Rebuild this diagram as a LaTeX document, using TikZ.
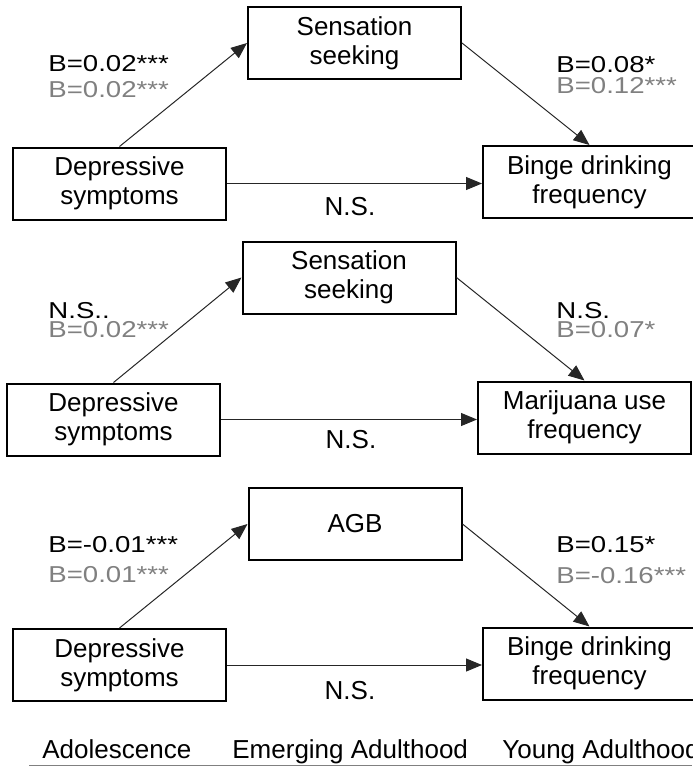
\documentclass[tikz,border=0pt]{standalone}
\usepackage{fontspec}
\setmainfont{Liberation Sans}
\newfontfamily\coeffont[FakeStretch=1.2]{Liberation Sans}
\usetikzlibrary{arrows.meta}
\definecolor{coefgray}{RGB}{128,128,128}
\begin{document}
\begin{tikzpicture}[x=0.5pt,y=-0.5pt,
    box/.style={draw,line width=1pt,minimum width=106.5pt,minimum height=36pt,inner sep=0pt,align=center,font=\fontsize{13}{14.5}\selectfont},
    link/.style={-{Triangle[length=8pt,width=6.5pt]},line width=0.5pt,draw=black!85},
    coef/.style={anchor=base west,inner sep=0pt,font=\coeffont\fontsize{11.5}{12}\selectfont},
    ns/.style={anchor=base,inner sep=0pt,font=\fontsize{13}{14}\selectfont},
    stage/.style={anchor=base west,inner sep=0pt,font=\fontsize{13}{14}\selectfont}]
        \useasboundingbox (0,0) rectangle (692,766);
        % binge drinking, sensation seeking
        \node[box] (sens1) at (354.5,43) {Sensation\\seeking};
        \node[box] (dep1) at (119.5,183.5) {Depressive\\symptoms};
        \node[box] (binge1) at (589.5,182) {Binge drinking\\frequency};
        \draw[link] (dep1.north) -- (sens1.west);
        \draw[link] (sens1.east) -- (binge1.north);
        \draw[link] (dep1.east) -- (dep1.east -| binge1.west);
        \node[coef] (a1) at (48,71) {B=0.02***};
        \node[coef,text=coefgray] (a1g) at (48,97) {B=0.02***};
        \node[coef] (b1) at (556,72) {B=0.08*};
        \node[coef,text=coefgray] (b1g) at (556,93) {B=0.12***};
        \node[ns] (c1) at (350,215) {N.S.};
        % marijuana use, sensation seeking
        \node[box] (sens2) at (349,277.5) {Sensation\\seeking};
        \node[box] (dep2) at (113.5,419.5) {Depressive\\symptoms};
        \node[box] (mar2) at (584.5,417.5) {Marijuana use\\frequency};
        \draw[link] (dep2.north) -- (sens2.west);
        \draw[link] (sens2.east) -- (mar2.north);
        \draw[link] (dep2.east) -- (dep2.east -| mar2.west);
        \node[coef] (a2) at (48,318) {N.S..};
        \node[coef,text=coefgray] (a2g) at (48,337) {B=0.02***};
        \node[coef] (b2) at (556,318) {N.S.};
        \node[coef,text=coefgray] (b2g) at (556,337) {B=0.07*};
        \node[ns] (c2) at (351,448) {N.S.};
        % binge drinking, AGB
        \node[box] (agb3) at (355,524) {AGB};
        \node[box] (dep3) at (119.5,665) {Depressive\\symptoms};
        \node[box] (binge3) at (589.5,663.5) {Binge drinking\\frequency};
        \draw[link] (dep3.north) -- (agb3.west);
        \draw[link] (agb3.east) -- (binge3.north);
        \draw[link] (dep3.east) -- (dep3.east -| binge3.west);
        \node[coef] (a3) at (48,552) {B=-0.01***};
        \node[coef,text=coefgray] (a3g) at (48,582) {B=0.01***};
        \node[coef] (b3) at (556,552) {B=0.15*};
        \node[coef,text=coefgray] (b3g) at (556,583) {B=-0.16***};
        \node[ns] (c3) at (350,699) {N.S.};
        % stages
        \node[stage] (adol) at (42,758) {Adolescence};
        \node[stage] (emerg) at (232,758) {Emerging Adulthood};
        \node[stage] (young) at (502,758) {Young Adulthood};
        \draw[coefgray,line width=0.5pt] (29,765) -- (692,765);
\end{tikzpicture}
\end{document}
